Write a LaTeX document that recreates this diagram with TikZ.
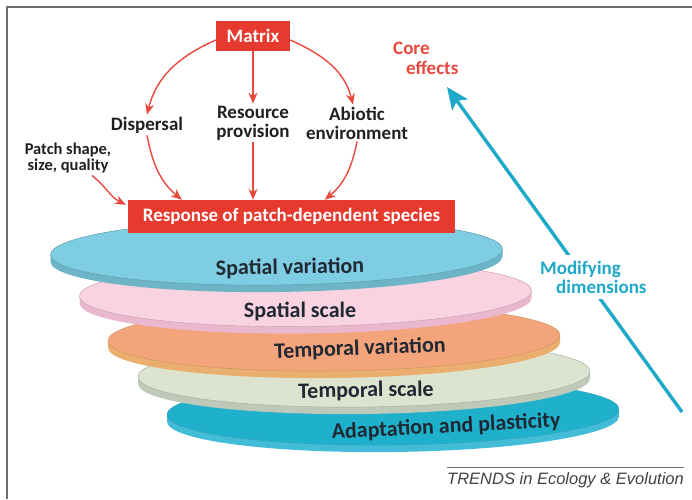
\documentclass[tikz,border=0pt]{standalone}
\usepackage{fontspec}
\setmainfont{Carlito}
\newfontfamily\trendsfont{Liberation Sans}
\usetikzlibrary{arrows.meta}

\definecolor{boxred}{HTML}{E63A2F}
\definecolor{arrowred}{HTML}{E8483D}
\definecolor{modblue}{HTML}{1EA9C9}
\definecolor{labelgray}{HTML}{231F20}
\definecolor{disctext}{HTML}{1F2833}
\definecolor{framegray}{HTML}{6E6E6E}
\definecolor{svtop}{HTML}{7ECDE2}
\definecolor{svside}{HTML}{6DB4C6}
\definecolor{sstop}{HTML}{F9D3E0}
\definecolor{ssside}{HTML}{E9B8CF}
\definecolor{tvtop}{HTML}{F4A47A}
\definecolor{tvside}{HTML}{EAAE6E}
\definecolor{tstop}{HTML}{DCE4D0}
\definecolor{tsside}{HTML}{BFC9B9}
\definecolor{aptop}{HTML}{1FB0CB}
\definecolor{apside}{HTML}{43BCD7}

\begin{document}
\begin{tikzpicture}[x=1pt, y=1pt,
  lbl/.style={font=\bfseries\fontsize{19}{19}\selectfont, text=labelgray, align=center, inner sep=2pt},
  smalllbl/.style={font=\bfseries\fontsize{16.5}{16.5}\selectfont, text=labelgray, align=center, inner sep=2pt},
  redbox/.style={fill=boxred, text=white, font=\bfseries\fontsize{19}{19}\selectfont, inner sep=0pt},
  redarrow/.style={draw=arrowred, line width=1.4pt, -{Stealth[length=11pt,width=9pt]}},
  bluearrow/.style={draw=modblue, line width=3.4pt, -{Stealth[length=22pt,width=19pt,inset=5pt]}},
  disclbl/.style={font=\bfseries\fontsize{22}{22}\selectfont, text=disctext}]
\useasboundingbox (0,0) rectangle (692,499);

% frame
\draw[framegray, line width=1.8pt] (7,0) -- (7,492) -- (692,492);

% modifying dimensions
\coordinate (dimtail) at (682,87);
\coordinate (dimhead) at (447,412);
\draw[bluearrow] (dimtail) -- (dimhead);
\node[font=\bfseries\fontsize{19}{19}\selectfont, text=modblue, align=left, fill=white, inner sep=6pt, anchor=west] (dims) at (534,222) {Modifying\\\hspace*{16pt}dimensions};

% stacked discs, bottom one first
\foreach \cx/\cy/\topc/\sidec in {393/87/aptop/apside, 364/125/tstop/tsside, 334/161/tvtop/tvside, 305.5/205.5/sstop/ssside, 276.5/247/svtop/svside}{
  \begin{scope}[shift={(\cx,\cy)}, rotate=0.7]
    \fill[\sidec] (-226,-7) arc[start angle=180, end angle=360, x radius=226, y radius=33] -- (226,0) arc[start angle=0, end angle=180, x radius=226, y radius=33] -- cycle;
    \fill[\topc, draw=\sidec!85!black, line width=.4pt] (0,0) ellipse[x radius=226, y radius=33];
  \end{scope}
}

\node[disclbl, rotate=1] (sv) at (290,231) {Spatial variation};
\node[disclbl] (ss) at (300,188) {Spatial scale};
\node[disclbl, rotate=2.3] (tv) at (360,150) {Temporal variation};
\node[disclbl, rotate=1] (ts) at (366,108) {Temporal scale};
\node[disclbl, rotate=3] (ap) at (446,72) {Adaptation and plasticity};

% core effects
\node[redbox, minimum width=327pt, minimum height=33pt] (resp) at (291.5,282.5) {Response of patch-dependent species};
\node[redbox, minimum width=74pt, minimum height=30pt] (matrix) at (253,463) {Matrix};
\node[lbl] (disp) at (147,374) {Dispersal};
\node[lbl] (res) at (253,376) {Resource\\provision};
\node[lbl] (abio) at (357,376) {Abiotic\\environment};
\node[smalllbl] (patch) at (68,341) {Patch shape,\\size, quality};
\node[font=\bfseries\fontsize{19}{20}\selectfont, text=arrowred, align=left, inner sep=0pt, anchor=west] (core) at (393,441) {Core\\\hspace*{13pt}effects};

\draw[redarrow] ([yshift=-4pt]matrix.west) to[out=204, in=76] (disp.north);
\draw[redarrow] (matrix.south) -- (res.north);
\draw[redarrow] ([yshift=-4pt]matrix.east) to[out=-24, in=104] ([xshift=-4pt]abio.north);
\draw[redarrow] (disp.south) to[out=-79, in=140] ([xshift=54pt]resp.north west);
\draw[redarrow] (res.south) -- (res.south |- resp.north);
\draw[redarrow] (abio.south) to[out=-101, in=40] ([xshift=197pt]resp.north west);
\draw[redarrow] ([xshift=24pt]patch.south) to[out=-38, in=153] ([xshift=-2pt,yshift=-5pt]resp.north west);

% journal line
\node[font=\trendsfont\itshape\fontsize{16.5}{16.5}\selectfont, text=labelgray!85, anchor=north east, inner xsep=0pt, inner ysep=1pt] (trends) at (684,28) {TRENDS in Ecology \& Evolution};
\draw[framegray, line width=.8pt] ([yshift=4pt]trends.north west) -- ([yshift=4pt]trends.north east);
\end{tikzpicture}
\end{document}
